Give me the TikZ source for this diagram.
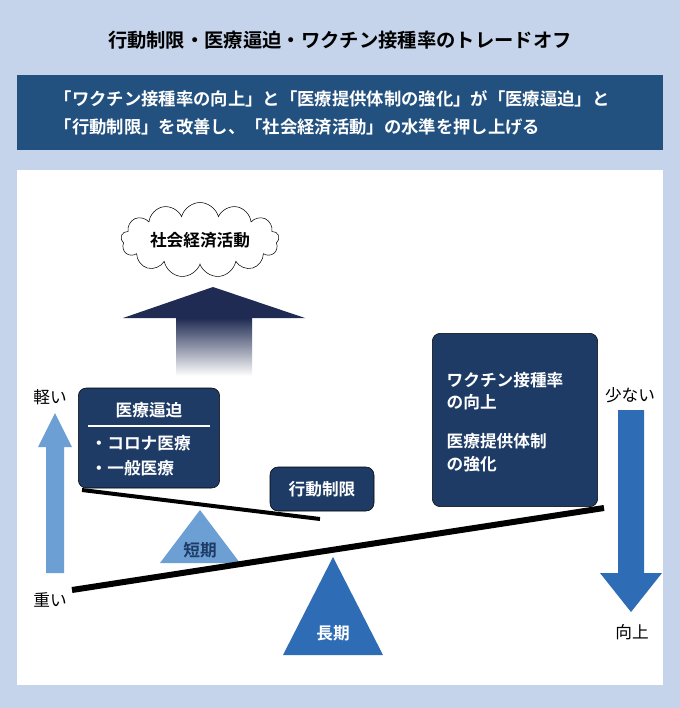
\documentclass[tikz,border=0pt]{standalone}
\usepackage{fontspec}
\setmainfont{Noto Sans CJK JP}[BoldFont={Noto Sans CJK JP Bold}]
\usetikzlibrary{shapes.symbols}
\definecolor{bgblue}{HTML}{C5D4EB}
\definecolor{headblue}{HTML}{22507F}
\definecolor{navy}{HTML}{1E3B66}
\definecolor{arrownavy}{HTML}{1F2B52}
\definecolor{lightarr}{HTML}{6C9FD4}
\definecolor{midblue}{HTML}{2E6DB6}
\tikzset{
  navybox/.style={fill=navy, draw=black, rounded corners=6pt, text=white, font=\bfseries},
  sidelabel/.style={font=\fontsize{12.5}{14}\selectfont},
  beam/.style={line width=4.5pt, black}
}
\begin{document}
\begin{tikzpicture}[x=0.75pt,y=-0.75pt]
  \fill[bgblue] (0,0) rectangle (680,708);
  \useasboundingbox (0,0) rectangle (680,708);
  \node (title) at (340,40) {\fontsize{14.5}{16}\selectfont\bfseries 行動制限・医療逼迫・ワクチン接種率のトレードオフ};
  \fill[headblue] (17,75) rectangle (663,150);
  \node[anchor=west, text=white, align=left, font=\fontsize{13}{21}\selectfont\bfseries] (lead) at (50,113)
    {「ワクチン接種率の向上」と「医療提供体制の強化」が「医療逼迫」と\\「行動制限」を改善し、「社会経済活動」の水準を押し上げる};
  \fill[white] (17,170) rectangle (663,685);
  % cloud and up arrow
  \node[cloud, cloud puffs=13, aspect=3.2, draw=black, fill=white, minimum width=118pt, minimum height=40pt,
    font=\fontsize{12.5}{14}\selectfont\bfseries] (econ) at (200,240) {社会経済活動};
  \shade[top color=arrownavy, bottom color=white] (176,318) rectangle (252,376);
  \fill[arrownavy] (123,318) -- (213,287) -- (305,318) -- cycle;
  % side arrows
  \fill[lightarr] (46,573) -- (46,447) -- (38,447) -- (55,413) -- (72,447) -- (64,447) -- (64,573) -- cycle;
  \fill[midblue] (618,410) -- (618,573) -- (600,573) -- (631,612) -- (662,573) -- (644,573) -- (644,410) -- cycle;
  \node[sidelabel] (light) at (50,397) {軽い};
  \node[sidelabel] (heavy) at (50,600) {重い};
  \node[sidelabel] (few) at (630,395) {少ない};
  \node[sidelabel] (up) at (632,632) {向上};
  % short term seesaw
  \fill[lightarr] (200,510) -- (240,563) -- (160,563) -- cycle;
  \node[font=\fontsize{12.5}{14}\selectfont\bfseries, text=navy] (short) at (200,550) {短期};
  \coordinate (sl) at (82,490);
  \coordinate (sr) at (320,519);
  \draw[line width=3pt] (sl) -- (sr);
  % long term seesaw
  \fill[midblue] (333,557) -- (383,655) -- (283,655) -- cycle;
  \node[font=\fontsize{12.5}{14}\selectfont\bfseries, text=white] (long) at (333,633) {長期};
  \coordinate (ll) at (72,590);
  \coordinate (lr) at (604,508);
  \draw[beam] (ll) -- (lr);
  % boxes
  \node[navybox, minimum width=106pt, minimum height=75pt] (strain) at (149,438) {};
  \node[text=white, font=\fontsize{12.5}{14}\selectfont\bfseries] (strainT) at (149,410) {医療逼迫};
  \draw[white, line width=1pt] (88,426) -- (210,426);
  \node[anchor=west, text=white, align=left, font=\fontsize{12.5}{19}\selectfont\bfseries] (strainL) at (86,456)
    {・コロナ医療\\・一般医療};
  \node[navybox, minimum width=78pt, minimum height=33pt, font=\fontsize{12.5}{14}\selectfont\bfseries] (restrict) at (322,489) {行動制限};
  \node[navybox, minimum width=124pt, minimum height=130pt] (vacc) at (515,420) {};
  \node[anchor=west, text=white, align=left, font=\fontsize{12.5}{17}\selectfont\bfseries] (vaccL) at (442,422)
    {ワクチン接種率\\の向上\\[12pt]医療提供体制\\の強化};
\end{tikzpicture}
\end{document}
